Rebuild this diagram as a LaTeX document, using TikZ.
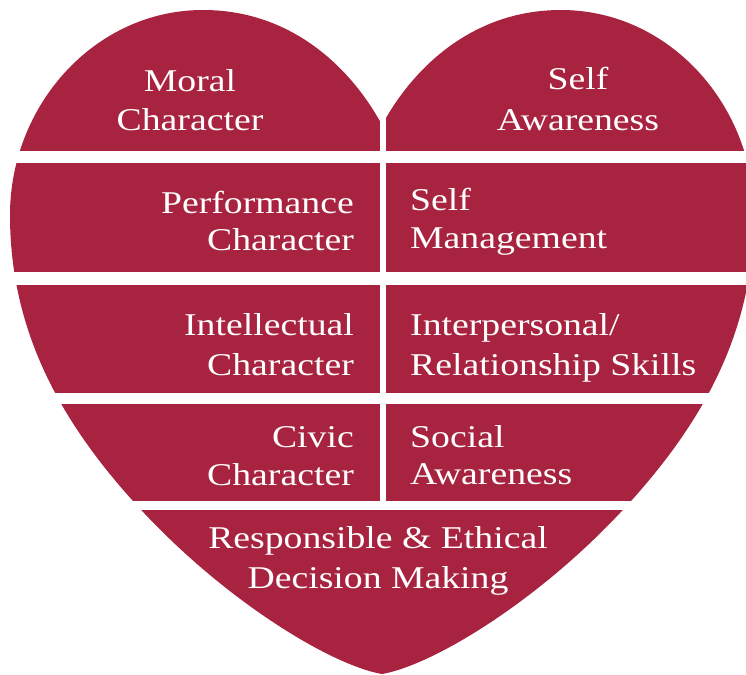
\documentclass[tikz,border=0pt]{standalone}
\usepackage{fontspec}
\setmainfont[FakeStretch=1.19]{Liberation Serif}
\definecolor{heartred}{RGB}{168,35,63}
\begin{document}
\begin{tikzpicture}[x=1pt,y=-1pt,
  lbl/.style={text=white,inner sep=0pt,font=\fontsize{31.7}{38}\selectfont},
  gap/.style={fill=white,draw=none}]
\useasboundingbox (0,0) rectangle (746,674);
% heart
\fill[heartred] (382,125)
  .. controls (350,66) and (290,10) .. (203,10)
  .. controls (95,10) and (10,105) .. (10,215)
  .. controls (10,330) and (60,420) .. (133,501)
  .. controls (220,598) and (330,665) .. (382,674)
  .. controls (434,665) and (544,598) .. (631,501)
  .. controls (704,420) and (754,330) .. (754,215)
  .. controls (754,105) and (669,10) .. (561,10)
  .. controls (474,10) and (414,66) .. (382,125) -- cycle;
% white gaps
\fill[gap] (-5,151) rectangle (760,163);
\fill[gap] (-5,272) rectangle (760,285);
\fill[gap] (-5,393) rectangle (760,404);
\fill[gap] (-5,501) rectangle (760,510);
\fill[gap] (380,110) rectangle (386,505);
% labels
\node[lbl,anchor=base] (m1) at (190,92) {Moral};
\node[lbl,anchor=base] (m2) at (190,130) {Character};
\node[lbl,anchor=base] (sa1) at (578,90) {Self};
\node[lbl,anchor=base] (sa2) at (578,130) {Awareness};
\node[lbl,anchor=base east] (p1) at (354,213) {Performance};
\node[lbl,anchor=base east] (p2) at (354,250) {Character};
\node[lbl,anchor=base west] (sm1) at (410,210) {Self};
\node[lbl,anchor=base west] (sm2) at (410,248) {Management};
\node[lbl,anchor=base east] (i1) at (354,335) {Intellectual};
\node[lbl,anchor=base east] (i2) at (354,375) {Character};
\node[lbl,anchor=base west] (r1) at (410,335) {Interpersonal/};
\node[lbl,anchor=base west] (r2) at (410,375) {Relationship Skills};
\node[lbl,anchor=base east] (c1) at (354,447) {Civic};
\node[lbl,anchor=base east] (c2) at (354,485) {Character};
\node[lbl,anchor=base west] (so1) at (410,447) {Social};
\node[lbl,anchor=base west] (so2) at (410,484) {Awareness};
\node[lbl,anchor=base] (d1) at (378,548) {Responsible \& Ethical};
\node[lbl,anchor=base] (d2) at (378,588) {Decision Making};
\end{tikzpicture}
\end{document}
